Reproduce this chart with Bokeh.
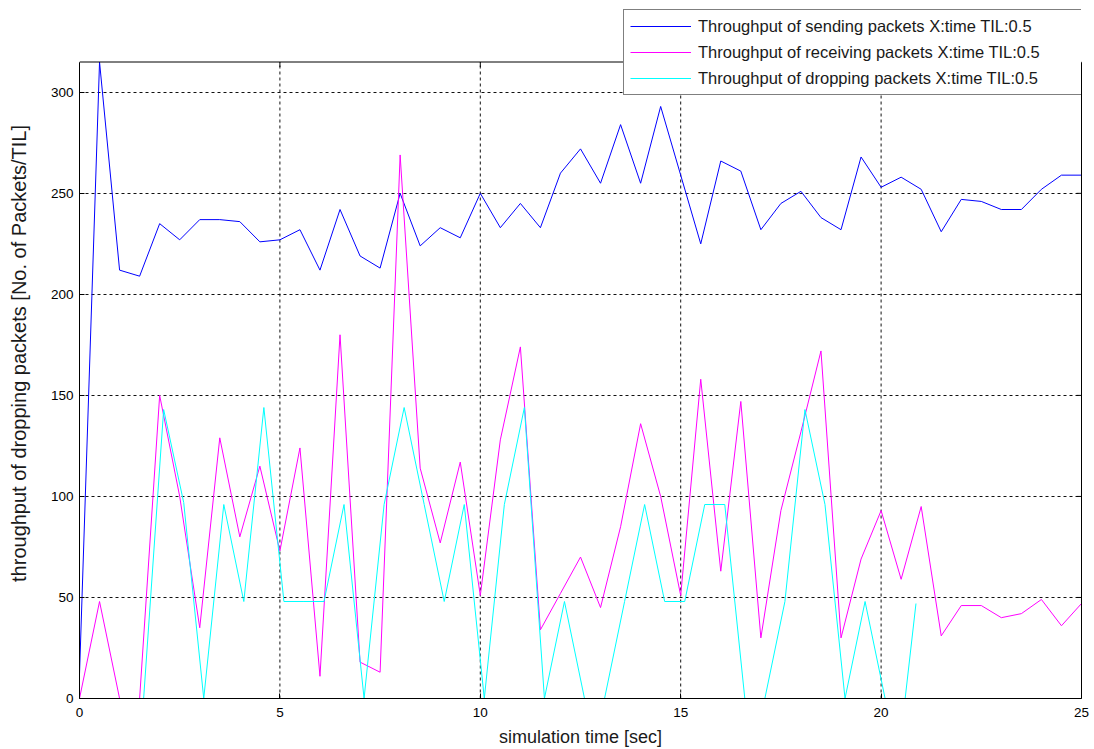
from bokeh.plotting import figure
from bokeh.models import Range1d, LinearAxis, Legend, LegendItem, FixedTicker, Span
from bokeh.embed import file_html
from bokeh.resources import INLINE

# ---- data ----
t_send = [0, 0.5, 1, 1.5, 2, 2.5, 3, 3.5, 4, 4.5, 5, 5.5, 6, 6.5, 7, 7.5, 8, 8.5, 9, 9.5,
          10, 10.5, 11, 11.5, 12, 12.5, 13, 13.5, 14, 14.5, 15, 15.5, 16, 16.5, 17, 17.5,
          18, 18.5, 19, 19.5, 20, 20.5, 21, 21.5, 22, 22.5, 23, 23.5, 24, 24.5, 25]
sending = [12, 315, 212, 209, 235, 227, 237, 237, 236, 226, 227, 232, 212, 242, 219, 213,
           250, 224, 233, 228, 250, 233, 245, 233, 260, 272, 255, 284, 255, 293, 259, 225,
           266, 261, 232, 245, 251, 238, 232, 268, 253, 258, 252, 231, 247, 246, 242, 242,
           252, 259, 259]
receiving = [0, 48, 0, 0, 150, 100, 35, 129, 80, 115, 73, 124, 11, 180, 18, 13, 269, 114,
             77, 117, 51, 128, 174, 34, 52, 70, 45, 85, 136, 100, 51, 158, 63, 147, 30, 93,
             132, 172, 30, 69, 93, 59, 95, 31, 46, 46, 40, 42, 49, 36, 47]
t_drop = [1.6, 2.1, 2.6, 3.1, 3.6, 4.1, 4.6, 5.1, 5.6, 6.1, 6.6, 7.1, 7.6, 8.1, 8.6, 9.1,
          9.6, 10.1, 10.6, 11.1, 11.6, 12.1, 12.6, 13.1, 13.6, 14.1, 14.6, 15.1, 15.6, 16.1,
          16.6, 17.1, 17.6, 18.1, 18.6, 19.1, 19.6, 20.1, 20.6, 20.87]
dropping = [0, 143, 97, 0, 96, 48, 144, 48, 48, 48, 96, 0, 96, 144, 96, 48, 96, 0, 96, 144,
            0, 48, 0, 0, 48, 96, 48, 48, 96, 96, 0, 0, 48, 143, 96, 0, 48, 0, 0, 47]

x_ticks = [0, 5, 10, 15, 20, 25]
y_ticks = [0, 50, 100, 150, 200, 250, 300]
x_grid = [5, 10, 15, 20]
labels = ["Throughput of sending packets X:time TIL:0.5",
          "Throughput of receiving packets X:time TIL:0.5",
          "Throughput of dropping packets X:time TIL:0.5"]

X_MIN, X_MAX = 0, 25
Y_MIN, Y_BOX = 0, 315          # visible axes box
FONT = "Liberation Sans"

# ---- layout geometry (pixels) ----
W, H = 1090, 749
B_LEFT, B_RIGHT, B_TOP, B_BOTTOM = 79, W - 1081, 8, H - 698
FRAME_W = W - B_LEFT - B_RIGHT
FRAME_H = H - B_TOP - B_BOTTOM
PX_PER_Y = (698 - 61.5) / Y_BOX
Y_TOP = FRAME_H / PX_PER_Y            # extra room above the box for the legend
PX_PER_X = FRAME_W / (X_MAX - X_MIN)
TICK = 5
tick_dy = TICK / PX_PER_Y
tick_dx = TICK / PX_PER_X

p = figure(width=W, height=H, output_backend="svg", toolbar_location=None,
           x_range=Range1d(X_MIN, X_MAX), y_range=Range1d(Y_MIN, Y_TOP),
           min_border_left=B_LEFT, min_border_right=B_RIGHT,
           min_border_top=B_TOP, min_border_bottom=B_BOTTOM)
p.outline_line_color = None
p.background_fill_color = "white"
p.border_fill_color = "white"
p.xgrid.visible = False

# horizontal grid
p.ygrid.ticker = FixedTicker(ticks=y_ticks)
p.ygrid[0].grid_line_color = "#111111"
p.ygrid[0].grid_line_dash = "3 3"
p.ygrid[0].grid_line_width = 1
# vertical grid limited to the box
p.segment(x0=x_grid, y0=[Y_MIN] * len(x_grid), x1=x_grid, y1=[Y_BOX] * len(x_grid),
          line_color="#111111", line_dash="3 3", line_width=1)

r1 = p.line(t_send, sending, line_color="#0000FF", line_width=1)
r2 = p.line(t_send, receiving, line_color="#FF00FF", line_width=1)
r3 = p.line(t_drop, dropping, line_color="#00FFFF", line_width=1)

# box: top edge, right edge + inward ticks on top and right
p.add_layout(Span(location=Y_BOX, dimension="width", line_color="black", line_width=1))
p.segment(x0=x_ticks, y0=[Y_BOX - tick_dy] * len(x_ticks), x1=x_ticks, y1=[Y_BOX] * len(x_ticks),
          line_color="black", line_width=1)
p.segment(x0=[X_MAX - tick_dx] * len(y_ticks), y0=y_ticks, x1=[X_MAX] * len(y_ticks), y1=y_ticks,
          line_color="black", line_width=1)

for ax in (p.xaxis[0], p.yaxis[0]):
    ax.major_tick_in = TICK
    ax.major_tick_out = 0
    ax.minor_tick_in = 0
    ax.minor_tick_out = 0
    ax.axis_line_color = "black"
    ax.major_tick_line_color = "black"
    ax.major_label_text_font = FONT
    ax.major_label_text_font_size = "13.5px"
    ax.major_label_text_color = "black"
    ax.axis_label_text_font = FONT
    ax.axis_label_text_font_style = "normal"
    ax.axis_label_text_color = "#1a1a1a"

p.xaxis[0].ticker = FixedTicker(ticks=x_ticks)
p.yaxis[0].ticker = FixedTicker(ticks=y_ticks)
p.yaxis[0].bounds = (Y_MIN, Y_BOX)
p.xaxis[0].axis_label = "simulation time [sec]"
p.yaxis[0].axis_label = "throughput of dropping packets [No. of Packets/TIL]"
p.xaxis[0].axis_label_text_font_size = "18px"
p.yaxis[0].axis_label_text_font_size = "20px"
p.xaxis[0].major_label_standoff = 9
p.xaxis[0].axis_label_standoff = 7
p.yaxis[0].major_label_standoff = 6
p.yaxis[0].axis_label_standoff = 18

right = LinearAxis(ticker=FixedTicker(ticks=[]), bounds=(Y_MIN, Y_BOX),
                   major_tick_in=0, major_tick_out=0, minor_tick_in=0, minor_tick_out=0,
                   axis_line_color="black")
p.add_layout(right, "right")

legend = Legend(items=[LegendItem(label=labels[0], renderers=[r1]),
                       LegendItem(label=labels[1], renderers=[r2]),
                       LegendItem(label=labels[2], renderers=[r3])],
                location=(1081 - 79 - 458, 698 - 95), orientation="vertical",
                label_text_font=FONT, label_text_font_size="16.5px", label_text_color="#1a1a1a",
                glyph_width=61, glyph_height=20, label_height=20, label_standoff=7,
                label_width=378, spacing=6, padding=6, margin=0,
                border_line_color="black", border_line_width=1,
                background_fill_color="white", background_fill_alpha=1.0)
p.add_layout(legend, "center")

open("out.html", "w").write(file_html(p, INLINE))
